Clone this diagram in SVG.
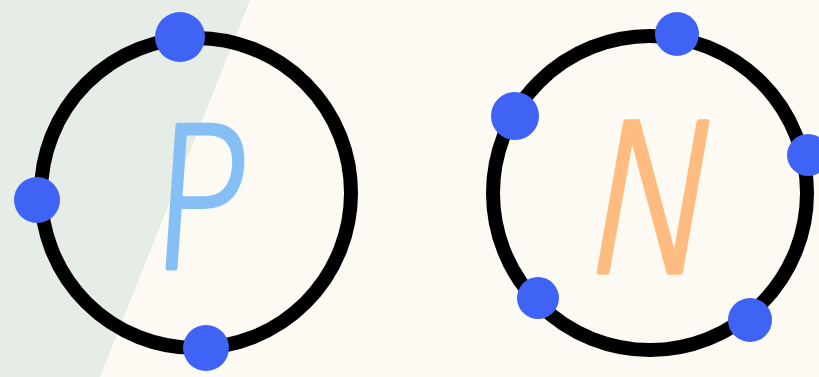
<svg xmlns="http://www.w3.org/2000/svg" width="819" height="377" viewBox="0 0 819 377">
<style>
.ring{fill:none;stroke:#000;stroke-width:14}
.dot{fill:#3f63f5}
.lbl{font-family:"DejaVu Sans","Liberation Sans",sans-serif;font-weight:200;stroke-width:5;stroke-linejoin:round}
</style>
<rect width="819" height="377" fill="#fdfaf4"/>
<polygon points="0,0 250,0 100,377 0,377" fill="#e5ede6"/>
<g id="node-P">
<circle class="ring" cx="196" cy="193" r="155"/>
<circle class="dot" cx="180" cy="37" r="25"/>
<circle class="dot" cx="37" cy="200" r="23"/>
<circle class="dot" cx="206" cy="348" r="23"/>
<text class="lbl" transform="translate(148,268) skewX(-4) scale(0.82,1)" font-size="196" fill="#86bff5" stroke="#86bff5">P</text>
</g>
<g id="node-N">
<circle class="ring" cx="650" cy="193" r="157"/>
<circle class="dot" cx="677" cy="34" r="22"/>
<circle class="dot" cx="515" cy="116" r="24"/>
<circle class="dot" cx="808" cy="155" r="21"/>
<circle class="dot" cx="538" cy="298" r="21"/>
<circle class="dot" cx="750" cy="320" r="22"/>
<text class="lbl" transform="translate(578,272) skewX(-10) scale(0.88,1.05)" font-size="196" fill="#ffbc80" stroke="#ffbc80">N</text>
</g>
<g id="connectors"></g>
</svg>
